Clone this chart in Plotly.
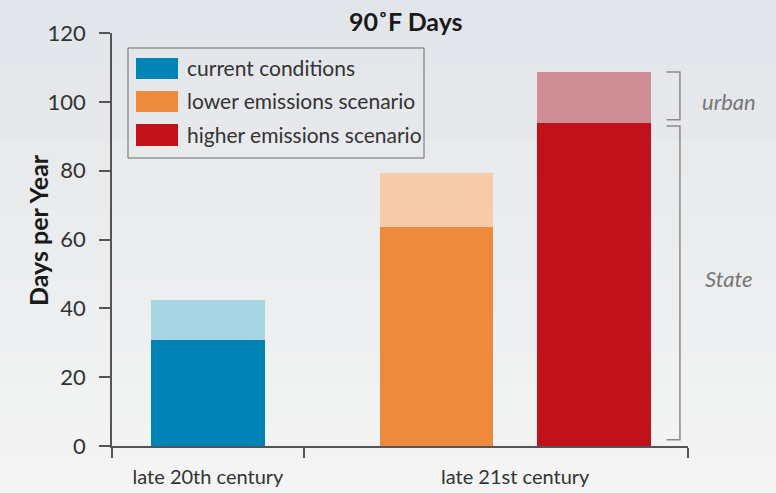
import plotly.graph_objects as go

# ---- data ----
periods = ["late 20th century", "late 21st century"]
scenarios = ["current conditions", "lower emissions scenario", "higher emissions scenario"]
scenario_period = [0, 1, 1]
state_days = [30.8, 63.7, 93.9]
urban_days = [42.4, 79.4, 108.7]
y_ticks = [0, 20, 40, 60, 80, 100, 120]

dark_colors = ["#0083b5", "#ee8a3c", "#c1121c"]
light_colors = ["#a8d4e4", "#f5cba9", "#cd8e94"]

# layout helpers (x axis: period boundaries at 0, 1, 3)
period_bounds = [0, 1, 3]
period_centers = [0.5, 2.1]
bar_offsets = [0.0, -0.41, 0.41]
bar_width = 0.59
bar_x = [period_centers[p] + o for p, o in zip(scenario_period, bar_offsets)]

L, R, T, B = 112, 688, 33, 446
W, H = 776, 493


def px(x):
    return (x - L) / (R - L)


def py(y):
    return (B - y) / (B - T)


fig = go.Figure()
fig.add_trace(go.Bar(x=bar_x, y=urban_days, width=bar_width,
                     marker=dict(color=light_colors, line=dict(width=0)),
                     showlegend=False, hoverinfo="y"))
fig.add_trace(go.Bar(x=bar_x, y=state_days, width=bar_width,
                     marker=dict(color=dark_colors, line=dict(width=0)),
                     showlegend=False, hoverinfo="y"))

shapes = []
annotations = []
font = "Lato, 'Open Sans', sans-serif"

# subtle background gradient (darker at top)
n_bands = 14
for i in range(n_bands):
    t = i / (n_bands - 1)
    c0, c1 = (226, 229, 233), (244, 244, 244)
    col = tuple(round(a + (b - a) * t) for a, b in zip(c0, c1))
    shapes.append(dict(type="rect", xref="paper", yref="paper", layer="below",
                       x0=px(0), x1=px(W), y0=py(H * (i + 1) / n_bands + (1 if i < n_bands - 1 else 0)),
                       y1=py(H * i / n_bands),
                       line=dict(width=0), fillcolor="rgb(%d,%d,%d)" % col))

# legend box
shapes.append(dict(type="rect", xref="paper", yref="paper",
                   x0=px(128), x1=px(424), y0=py(158), y1=py(48),
                   line=dict(color="#6a6a6a", width=1), fillcolor="rgba(0,0,0,0)"))
rows = [(58, 79), (91, 112), (124, 146)]
for (y0, y1), name, c in zip(rows, scenarios, dark_colors):
    shapes.append(dict(type="rect", xref="paper", yref="paper",
                       x0=px(136), x1=px(178), y0=py(y1), y1=py(y0),
                       line=dict(width=0), fillcolor=c))
    annotations.append(dict(xref="paper", yref="paper", x=px(185), y=py((y0 + y1) / 2 - 1),
                            text=name, showarrow=False, xanchor="left", yanchor="middle",
                            font=dict(family=font, size=21, color="#333333")))

# brackets for the highest bar
bx = 2.958
serif = 0.07
hi = 2
gap = 0.9
for top, bot in [(urban_days[hi], state_days[hi] + gap), (state_days[hi] - gap, 1.8)]:
    shapes.append(dict(type="path", xref="x", yref="y",
                       path=f"M {bx - serif},{top} L {bx},{top} L {bx},{bot} L {bx - serif},{bot}",
                       line=dict(color="#8a8a8a", width=1.5)))
annotations.append(dict(xref="paper", yref="paper", x=px(729), y=py(102),
                        xanchor="center", yanchor="middle",
                        text="<i>urban</i>", showarrow=False,
                        font=dict(family=font, size=22, color="#777777")))
annotations.append(dict(xref="paper", yref="paper", x=px(729), y=py(278),
                        xanchor="center", yanchor="middle",
                        text="<i>State</i>", showarrow=False,
                        font=dict(family=font, size=22, color="#777777")))

# title
annotations.append(dict(xref="paper", yref="paper", x=px(406), y=py(21),
                        xanchor="center", yanchor="middle",
                        text="<b>90˚F Days</b>", showarrow=False,
                        font=dict(family=font, size=25, color="#1a1a1a")))

# y-axis title
annotations.append(dict(xref="paper", yref="paper", x=px(38), y=py(230),
                        xanchor="center", yanchor="middle", textangle=-90,
                        text="<b>Days per Year</b>", showarrow=False,
                        font=dict(family=font, size=25, color="#1a1a1a")))

fig.update_layout(
    width=W, height=H,
    margin=dict(l=L, r=W - R, t=T, b=H - B, autoexpand=False),
    paper_bgcolor="#eef0f1", plot_bgcolor="rgba(0,0,0,0)",
    barmode="overlay", bargap=0,
    shapes=shapes, annotations=annotations,
    font=dict(family=font, color="#333333"),
    xaxis=dict(range=[period_bounds[0], period_bounds[-1]], showgrid=False, zeroline=False,
               showline=True, linecolor="#555555", linewidth=1.5, automargin=False,
               tickmode="array", tickvals=period_centers, ticktext=periods,
               ticks="", tickfont=dict(size=20, color="#333333"), ticklabelstandoff=12,
               minor=dict(tickmode="array", tickvals=period_bounds, ticks="outside",
                          ticklen=10, tickcolor="#555555", tickwidth=1.5),
               fixedrange=True),
    yaxis=dict(range=[0, 120], showgrid=False, zeroline=False,
               showline=True, linecolor="#555555", linewidth=1.5, automargin=False,
               tickmode="array", tickvals=y_ticks, ticks="outside", ticklen=11,
               tickcolor="#555555", tickwidth=1.5, ticklabelstandoff=9,
               tickfont=dict(size=22, color="#333333"),
               fixedrange=True),
)

fig.write_html("out.html", config={"displayModeBar": False},
               post_script="document.body.style.margin='0';")
